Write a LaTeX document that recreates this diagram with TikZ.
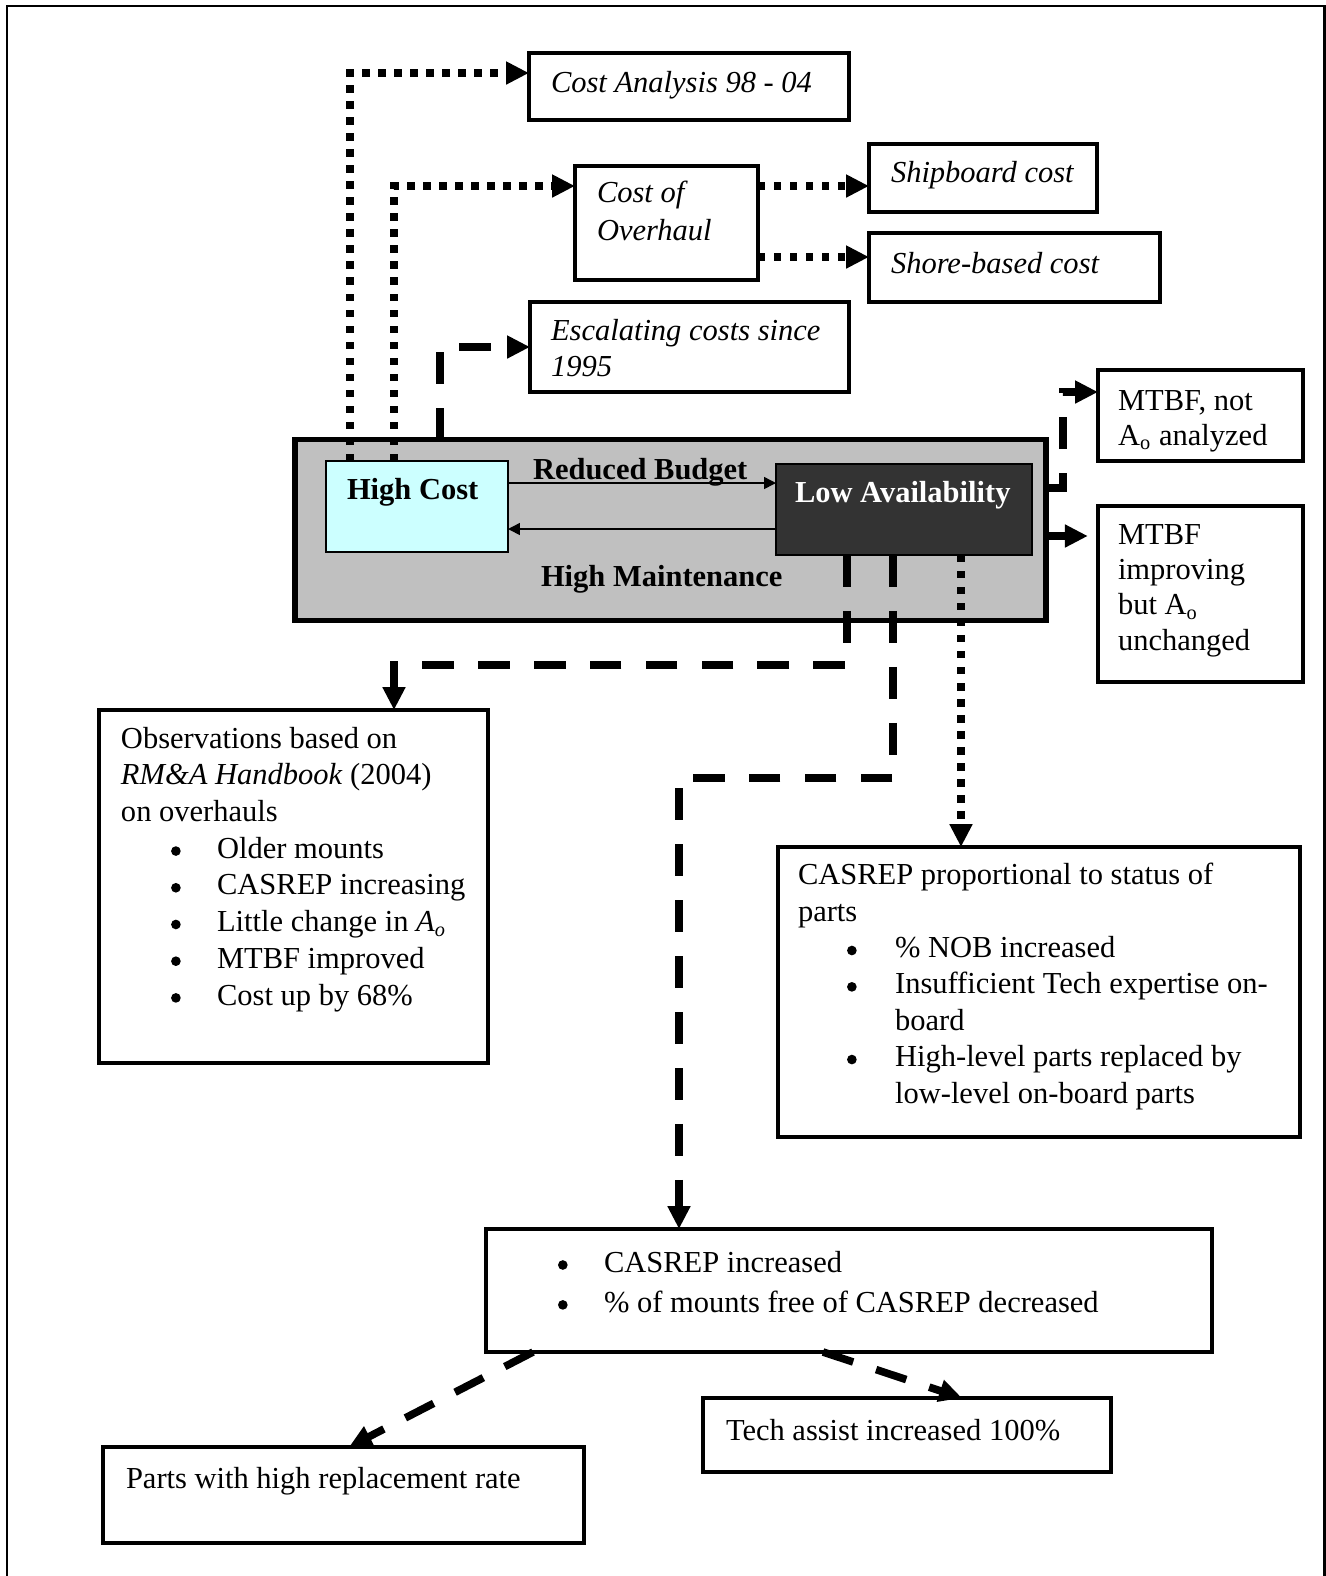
\documentclass[tikz,border=0pt]{standalone}
\usepackage{fontspec}
\setmainfont{Liberation Serif}
\usetikzlibrary{arrows.meta,fit}
\definecolor{hcfill}{HTML}{CCFFFF}
\definecolor{lafill}{HTML}{333333}
\definecolor{grayfill}{HTML}{C0C0C0}
\newcommand{\bigbul}{\raisebox{0.9pt}{\tikz[x=1pt,y=1pt]\fill[black] (0,0) circle (1.9);}}
\newcommand{\bulitem}[3]{\hspace*{#1}\makebox[#2][l]{\bigbul}#3}
\begin{document}
\begin{tikzpicture}[x=0.3934pt,y=-0.3934pt,
  every node/.style={font=\fontsize{12}{14.4}\selectfont},
  box/.style={draw, line width=1.3pt, fill=white, inner sep=0pt, outer sep=0pt},
  txt/.style={anchor=base west, inner sep=0pt, outer sep=0pt, align=left},
  dotline/.style={line width=2.9pt, dash pattern=on 2.9pt off 3.4pt, -{Triangle[length=9pt,width=8.5pt]}},
  dashline/.style={line width=3pt, dash pattern=on 12.5pt off 9.5pt, -{Triangle[length=9pt,width=8.5pt]}},
  solidarrow/.style={line width=3pt, -{Triangle[length=9pt,width=8.5pt]}},
  thinarrow/.style={line width=0.6pt, -{Triangle[length=4.7pt,width=4.7pt]}}]
\useasboundingbox (0,0) rectangle (1326,1576);
% outer frame
\draw[line width=0.8pt] (7,1576) -- (7,6) -- (1324.5,6) -- (1324.5,1576);

% central group
\node[draw, line width=2pt, fill=grayfill, inner sep=0pt, outer sep=0pt, fit={(295,439.5) (1046,620.5)}] (gray) {};
\node[draw, line width=0.7pt, fill=hcfill, inner sep=0pt, outer sep=0pt, fit={(326,461) (508,552)}] (hc) {};
\node[draw, line width=0.7pt, fill=lafill, inner sep=0pt, outer sep=0pt, fit={(776,464) (1032,555)}] (la) {};
\node[txt] (hc-t) at (347,499) {\textbf{High Cost}};
\node[txt, text=white] (la-t) at (795,502) {\textbf{Low Availability}};
\node[txt] (rb-t) at (533,479) {\textbf{Reduced Budget}};
\node[txt] (hm-t) at (541,586) {\textbf{High Maintenance}};
\coordinate (rb) at (0,483);
\coordinate (hm) at (0,529);
\draw[thinarrow] (hc.east |- rb) -- (la.west |- rb);
\draw[thinarrow] (la.west |- hm) -- (hc.east |- hm);

% boxes
\node[box, fit={(529,53) (849,120)}] (ca) {};
\node[box, fit={(575,166) (758,280)}] (coh) {};
\node[box, fit={(869,144) (1097,212)}] (ship) {};
\node[box, fit={(869,233) (1160,302)}] (shore) {};
\node[box, fit={(530,302) (849,392)}] (esc) {};
\node[box, fit={(1098,370) (1303,461)}] (mtbf1) {};
\node[box, fit={(1098,506) (1303,682)}] (mtbf2) {};
\node[box, fit={(99,710) (488,1063)}] (obs) {};
\node[box, fit={(778,847) (1300,1137)}] (prop) {};
\node[box, fit={(486,1229) (1212,1352)}] (inc) {};
\node[box, fit={(703,1398) (1111,1472)}] (tech) {};
\node[box, fit={(103,1447) (584,1543)}] (parts) {};

% texts (multi-line nodes are anchored at the baseline of their last line)
\node[txt] (ca-t) at (551,92) {\textit{Cost Analysis 98 - 04}};
\node[txt, font=\fontsize{12}{14.6}\selectfont] (coh-t) at (597,240) {\textit{Cost of}\\\textit{Overhaul}};
\node[txt] (ship-t) at (891,182) {\textit{Shipboard cost}};
\node[txt] (shore-t) at (891,273) {\textit{Shore-based cost}};
\node[txt, font=\fontsize{12}{13.9}\selectfont] (esc-t) at (551,376) {\textit{Escalating costs since}\\\textit{1995}};
\node[txt, font=\fontsize{12}{13.7}\selectfont] (mtbf1-t) at (1118,445) {MTBF, not\\A\textsubscript{o} analyzed};
\node[txt, font=\fontsize{12}{13.8}\selectfont] (mtbf2-t) at (1118,650) {MTBF\\improving\\but A\textsubscript{o}\\unchanged};
\node[txt, font=\fontsize{12}{14.44}\selectfont] (obs-t) at (121,1005) {Observations based on\\\textit{RM\&A Handbook} (2004)\\on overhauls\\
\bulitem{19.7pt}{18.1pt}{Older mounts}\\
\bulitem{19.7pt}{18.1pt}{CASREP increasing}\\
\bulitem{19.7pt}{18.1pt}{Little change in \textit{A\textsubscript{o}}}\\
\bulitem{19.7pt}{18.1pt}{MTBF improved}\\
\bulitem{19.7pt}{18.1pt}{Cost up by 68\%}};
\node[txt, font=\fontsize{12}{14.3}\selectfont] (prop-t) at (798,1103) {CASREP proportional to status of\\parts\\
\bulitem{19.3pt}{18.9pt}{\% NOB increased}\\
\bulitem{19.3pt}{18.9pt}{Insufficient Tech expertise on-}\\
\hspace*{38.2pt}board\\
\bulitem{19.3pt}{18.9pt}{High-level parts replaced by}\\
\hspace*{38.2pt}low-level on-board parts};
\node[txt, font=\fontsize{12}{15.7}\selectfont] (inc-t) at (558,1312) {\makebox[18.1pt][l]{\bigbul}CASREP increased\\\makebox[18.1pt][l]{\bigbul}\% of mounts free of CASREP decreased};
\node[txt] (tech-t) at (726,1440) {Tech assist increased 100\%};
\node[txt] (parts-t) at (126,1488) {Parts with high replacement rate};

% connectors
\coordinate (d1) at (350,73);
\draw[dotline] (hc.north -| d1) -- (d1) -- (ca.west |- d1);
\coordinate (d2) at (394,186);
\draw[dotline] (hc.north -| d2) -- (d2) -- (coh.west |- d2);
\coordinate (d3) at (440,347);
\draw[dashline] (gray.north -| d3) -- (d3) -- (esc.west |- d3);
\coordinate (d4) at (0,186);
\draw[dotline] (coh.east |- d4) -- (ship.west |- d4);
\coordinate (d5) at (0,257);
\draw[dotline] (coh.east |- d5) -- (shore.west |- d5);
\coordinate (d6a) at (1063,488);
\coordinate (d6b) at (1063,392);
\draw[dashline] (gray.east |- d6a) -- (d6a) -- (d6b) -- (mtbf1.west |- d6b);
\coordinate (d7) at (0,536);
\draw[solidarrow, shorten >=4pt] (gray.east |- d7) -- (mtbf2.west |- d7);
\coordinate (d8a) at (847,665);
\coordinate (d8b) at (394,665);
\draw[dashline] (la.south -| d8a) -- (d8a) -- (d8b) -- (obs.north -| d8b);
\coordinate (d9a) at (893,778);
\coordinate (d9b) at (679,778);
\draw[dashline] (la.south -| d9a) -- (d9a) -- (d9b) -- (inc.north -| d9b);
\coordinate (d10) at (961,0);
\draw[dotline] (la.south -| d10) -- (prop.north -| d10);
\coordinate (d11a) at (533,0);
\coordinate (d11b) at (349,0);
\draw[dashline] (inc.south -| d11a) -- (parts.north -| d11b);
\coordinate (d12a) at (823,0);
\coordinate (d12b) at (962,0);
\draw[dashline] (inc.south -| d12a) -- (tech.north -| d12b);
\end{tikzpicture}
\end{document}
